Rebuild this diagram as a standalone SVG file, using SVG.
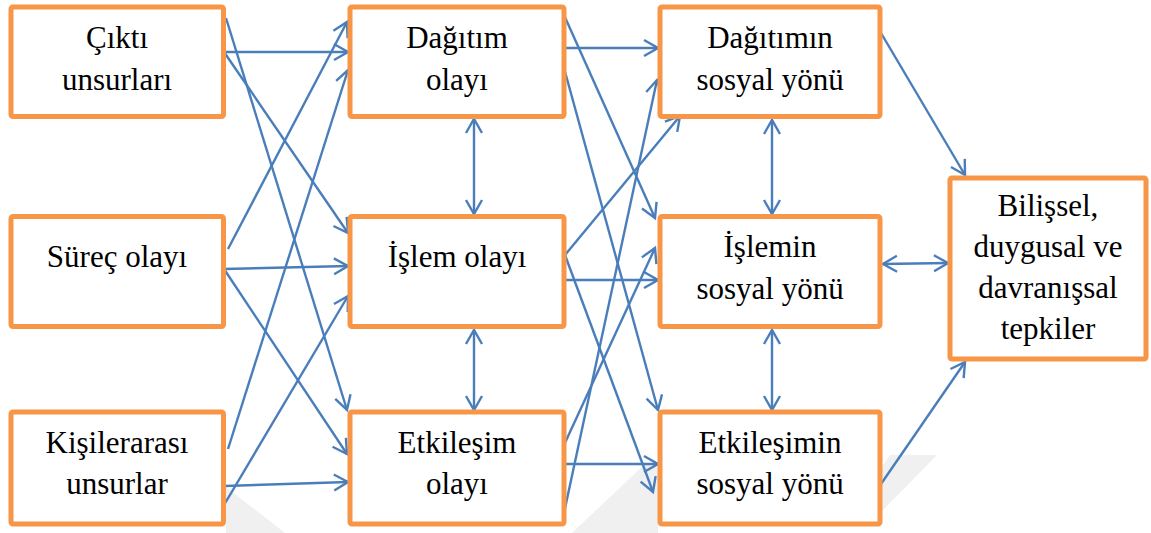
<svg xmlns="http://www.w3.org/2000/svg" width="1151" height="533" viewBox="0 0 1151 533">
<defs>
<style>
.box{fill:#fff;stroke:#F79646;stroke-width:5;}
.t{font-size:31px;fill:#000;text-anchor:middle;}
.c{stroke:#4A7EBB;stroke-width:2.4;fill:none;marker-end:url(#ah);}
.d{stroke:#4A7EBB;stroke-width:2.4;fill:none;marker-end:url(#ah);marker-start:url(#ah);}
.wm{fill:#f0f0f0;}
</style>
<marker id="ah" markerUnits="userSpaceOnUse" markerWidth="20" markerHeight="20" viewBox="-15 -10 17 20" refX="0" refY="0" orient="auto-start-reverse">
<path d="M-14,-8 L0,0 L-14,8" fill="none" stroke="#4A7EBB" stroke-width="2.4"/>
</marker>
</defs>
<rect width="1151" height="533" fill="#fff"/>
<g id="watermark">
<polygon class="wm" points="226,487 226,533 285,533"/>
<polygon class="wm" points="572,533 644,465 658,465 658,533"/>
<polygon class="wm" points="881,468 890,455 937,455 881,512"/>
</g>
<g id="connectors">
<line class="c" x1="224" y1="52" x2="348" y2="52"/>
<line class="c" x1="224" y1="52" x2="348" y2="233"/>
<line class="c" x1="226" y1="18" x2="347" y2="410"/>
<line class="c" x1="228" y1="249" x2="347" y2="22"/>
<line class="c" x1="224" y1="269" x2="348" y2="266"/>
<line class="c" x1="224" y1="269" x2="347" y2="454"/>
<line class="c" x1="228" y1="449" x2="348" y2="70"/>
<line class="c" x1="224" y1="505" x2="348" y2="296"/>
<line class="c" x1="224" y1="486" x2="348" y2="482"/>
<line class="c" x1="564" y1="48" x2="658" y2="48"/>
<line class="c" x1="564" y1="15" x2="655" y2="218"/>
<line class="c" x1="564" y1="68" x2="658" y2="410"/>
<line class="c" x1="565" y1="255" x2="680" y2="116"/>
<line class="c" x1="565" y1="280" x2="658" y2="280"/>
<line class="c" x1="565" y1="255" x2="653" y2="492"/>
<line class="c" x1="564" y1="445" x2="655" y2="248"/>
<line class="c" x1="564" y1="464" x2="658" y2="464"/>
<line class="c" x1="564" y1="513" x2="657" y2="80"/>
<line class="d" x1="474" y1="119" x2="474" y2="214"/>
<line class="d" x1="474" y1="330" x2="474" y2="410"/>
<line class="d" x1="772" y1="120" x2="772" y2="214"/>
<line class="d" x1="772" y1="330" x2="772" y2="410"/>
<line class="d" x1="883" y1="264" x2="948" y2="263"/>
<line class="c" x1="881" y1="33" x2="965" y2="175"/>
<line class="c" x1="881" y1="484" x2="965" y2="362"/>
</g>
<g id="nodes" font-family="Liberation Serif">
<g id="n-cikti"><rect class="box" x="11" y="7" width="212.5" height="109.5" rx="2"/>
<text class="t" x="117" y="48">Çıktı</text><text class="t" x="117" y="90">unsurları</text></g>
<g id="n-surec"><rect class="box" x="11" y="216.5" width="212.5" height="110" rx="2"/>
<text class="t" x="117" y="267">Süreç olayı</text></g>
<g id="n-kisiler"><rect class="box" x="11" y="412" width="212.5" height="112" rx="2"/>
<text class="t" x="117" y="453">Kişilerarası</text><text class="t" x="117" y="494">unsurlar</text></g>
<g id="n-dagitim"><rect class="box" x="350" y="7" width="214" height="109.5" rx="2"/>
<text class="t" x="457" y="48">Dağıtım</text><text class="t" x="457" y="90">olayı</text></g>
<g id="n-islem"><rect class="box" x="350" y="216.5" width="214" height="110" rx="2"/>
<text class="t" x="457" y="267">İşlem olayı</text></g>
<g id="n-etkilesim"><rect class="box" x="350" y="412" width="214" height="112" rx="2"/>
<text class="t" x="457" y="453">Etkileşim</text><text class="t" x="457" y="494">olayı</text></g>
<g id="n-dagitimin"><rect class="box" x="660" y="7" width="220" height="109.5" rx="2"/>
<text class="t" x="770" y="48">Dağıtımın</text><text class="t" x="770" y="90">sosyal yönü</text></g>
<g id="n-islemin"><rect class="box" x="660" y="216.5" width="220" height="110" rx="2"/>
<text class="t" x="770" y="257">İşlemin</text><text class="t" x="770" y="299">sosyal yönü</text></g>
<g id="n-etkilesimin"><rect class="box" x="660" y="412" width="220" height="112" rx="2"/>
<text class="t" x="770" y="453">Etkileşimin</text><text class="t" x="770" y="494">sosyal yönü</text></g>
<g id="n-tepkiler"><rect class="box" x="950" y="178" width="196" height="181" rx="2"/>
<text class="t" x="1048" y="216">Bilişsel,</text><text class="t" x="1048" y="257">duygusal ve</text><text class="t" x="1048" y="298">davranışsal</text><text class="t" x="1048" y="339">tepkiler</text></g>
</g>
</svg>
